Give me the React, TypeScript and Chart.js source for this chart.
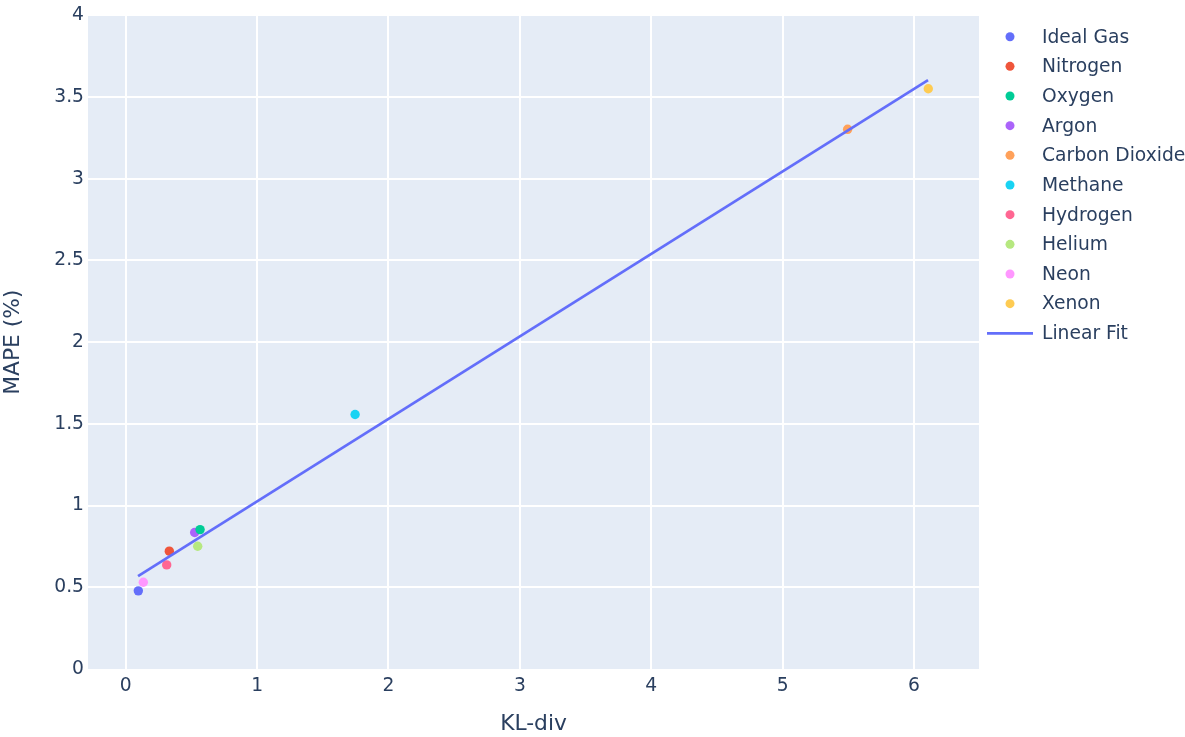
import React, { useEffect, useRef } from "react";
import { Chart, registerables } from "chart.js";

Chart.register(...registerables);

const gasNames = ["Ideal Gas", "Nitrogen", "Oxygen", "Argon", "Carbon Dioxide", "Methane", "Hydrogen", "Helium", "Neon", "Xenon"];
const klDiv = [0.096, 0.332, 0.566, 0.525, 5.495, 1.746, 0.312, 0.548, 0.134, 6.109];
const mape = [0.478, 0.721, 0.853, 0.835, 3.302, 1.557, 0.637, 0.751, 0.531, 3.55];
const gasColors = ["#636efa", "#EF553B", "#00cc96", "#ab63fa", "#FFA15A", "#19d3f3", "#FF6692", "#B6E880", "#FF97FF", "#FECB52"];
const fitX = [0.094, 6.107];
const fitY = [0.568, 3.603];
const fitLabel = "Linear Fit";
const fitColor = "#636efa";

const FONT = "'DejaVu Sans', Verdana, sans-serif";
const TEXT = "#2a3f5f";
const TICK_SIZE = 18.7;
const TITLE_SIZE = 21.8;

const bgPlugin = {
  id: "plotBg",
  beforeDraw(chart: any) {
    const { ctx, chartArea } = chart;
    ctx.save();
    ctx.fillStyle = "#E5ECF6";
    ctx.fillRect(chartArea.left, chartArea.top, chartArea.right - chartArea.left, chartArea.bottom - chartArea.top);
    ctx.restore();
  },
};

const legendPlugin = {
  id: "plotLegend",
  afterDraw(chart: any) {
    const { ctx } = chart;
    const items = chart.data.datasets;
    const sorted = [...items].sort((a: any, b: any) => (a.legendIndex ?? 0) - (b.legendIndex ?? 0));
    ctx.save();
    ctx.font = `${TICK_SIZE}px ${FONT}`;
    ctx.textBaseline = "middle";
    ctx.textAlign = "left";
    sorted.forEach((ds: any, i: number) => {
      const y = 36.7 + i * 29.66;
      if (ds.type === "line") {
        ctx.strokeStyle = ds.borderColor;
        ctx.lineWidth = 2.7;
        ctx.beginPath();
        ctx.moveTo(987, y);
        ctx.lineTo(1033, y);
        ctx.stroke();
      } else {
        ctx.fillStyle = ds.backgroundColor;
        ctx.beginPath();
        ctx.arc(1010, y, 4.5, 0, Math.PI * 2);
        ctx.fill();
      }
      ctx.fillStyle = TEXT;
      ctx.fillText(ds.label, 1042, y + 1);
    });
    ctx.restore();
  },
};

export default function App() {
  const ref = useRef<HTMLCanvasElement | null>(null);
  useEffect(() => {
    if (!ref.current) return;
    const pointSets = gasNames.map((name, i) => ({
      type: "scatter" as const,
      label: name,
      data: [{ x: klDiv[i], y: mape[i] }],
      backgroundColor: gasColors[i],
      borderColor: gasColors[i],
      borderWidth: 0,
      pointRadius: 4.7,
      pointHoverRadius: 4.7,
      order: 1,
      legendIndex: i,
    }));
    const fitSet = {
      type: "line" as const,
      label: fitLabel,
      data: fitX.map((x, i) => ({ x, y: fitY[i] })),
      borderColor: fitColor,
      backgroundColor: fitColor,
      borderWidth: 2.7,
      pointRadius: 0,
      fill: false,
      order: 0,
      legendIndex: gasNames.length,
    };
    const chart = new Chart(ref.current, {
      type: "scatter",
      data: { datasets: [...pointSets, fitSet] as any },
      options: {
        animation: false,
        responsive: false,
        events: [],
        layout: { padding: { left: 0, right: 206, top: 14, bottom: 0 } },
        plugins: { legend: { display: false }, tooltip: { enabled: false } },
        scales: {
          x: {
            type: "linear",
            min: -0.287,
            max: 6.495,
            border: { display: false },
            grid: { color: "#ffffff", lineWidth: 2, drawTicks: false },
            ticks: {
              stepSize: 1,
              includeBounds: false,
              color: TEXT,
              font: { family: FONT, size: TICK_SIZE },
              padding: 6,
              callback: (v: any) => String(v),
            },
            title: { display: true, text: "KL-div", color: TEXT, font: { family: FONT, size: TITLE_SIZE }, padding: { top: 0, bottom: 0 } },
            afterFit: (s: any) => { s.height = 68; },
          },
          y: {
            type: "linear",
            min: 0,
            max: 4,
            border: { display: false },
            grid: {
              color: (c: any) => (c.tick && c.tick.value === 0 ? "rgba(0,0,0,0)" : "#ffffff"),
              lineWidth: 2,
              drawTicks: false,
            },
            ticks: {
              stepSize: 0.5,
              color: TEXT,
              font: { family: FONT, size: TICK_SIZE },
              padding: 4,
              callback: (v: any) => String(v),
            },
            title: { display: true, text: "MAPE (%)", color: TEXT, font: { family: FONT, size: TITLE_SIZE }, padding: { top: 0, bottom: 0 } },
            afterFit: (s: any) => { s.width = 88; },
          },
        },
      },
      plugins: [bgPlugin, legendPlugin],
    });
    return () => chart.destroy();
  }, []);
  return (
    <div style={{ position: "absolute", left: 0, top: 0, width: 1185, height: 737, background: "#fff" }}>
      <canvas ref={ref} width={1185} height={737} style={{ width: 1185, height: 737 }} />
    </div>
  );
}
